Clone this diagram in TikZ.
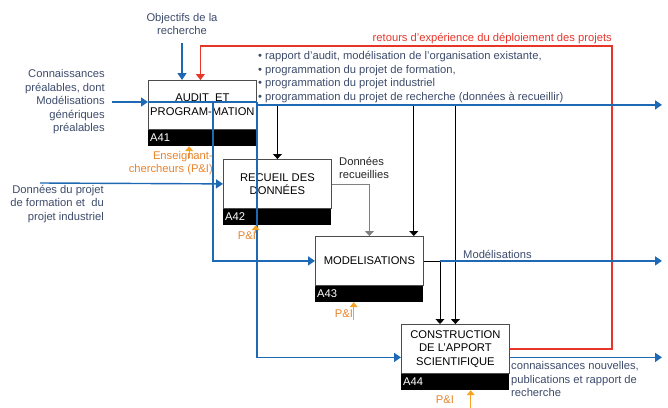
\documentclass[tikz,border=0pt]{standalone}
\usepackage{fontspec}
\setmainfont{Liberation Sans}
\usetikzlibrary{arrows.meta,positioning}
\definecolor{idefblue}{RGB}{30,105,180}
\definecolor{idefred}{RGB}{232,53,42}
\definecolor{idefgold}{RGB}{245,163,33}
\definecolor{idefamber}{RGB}{232,131,42}
\definecolor{idefslate}{RGB}{61,75,107}

\begin{document}
\begin{tikzpicture}[x=1pt, y=-1pt, font=\fontsize{11.2}{13.5}\selectfont]
      \tikzset{
  activity/.style={
    rectangle,
    draw=black!70,
    fill=white,
    line width=.8pt,
    minimum width=108pt,
    minimum height=49pt,
    inner sep=1pt,
    align=center,
    anchor=north west
  },
  activity id/.style={
    rectangle,
    fill=black,
    text=white,
    text width=104pt,
    minimum height=16pt,
    inner sep=2pt,
    align=left,
    anchor=north west
  },
  note/.style={inner sep=0pt, text=idefslate},
  staff label/.style={inner sep=0pt, text=idefamber},
  flow/.style={draw=idefblue, line width=1.4pt, >={Triangle[length=7pt,width=9pt]}},
  feed/.style={draw=black, line width=.8pt, >={Triangle[length=5pt,width=9pt]}},
  feed gray/.style={feed, draw=black!50},
  back/.style={draw=idefred, line width=1.3pt, >={Triangle[length=6pt,width=9pt]}},
  staff/.style={draw=idefgold, line width=1.1pt, >={Triangle[length=5pt,width=8pt]}}
}
\useasboundingbox (0,0) rectangle (668,407);

\foreach \n/\x/\y/\t in {41/148/80/{AUDIT\ \ ET\\PROGRAM-MATION},
                         42/223/159/{RECUEIL DES\\DONNÉES},
                         43/315/236/{MODELISATIONS},
                         44/401/324/{CONSTRUCTION\\DE L'APPORT\\SCIENTIFIQUE}} {
  \node [activity] (a\n) at (\x,\y) {\t};
  \node [activity id] (a\n id) at (a\n.south west) {A\n};
}

% texts
\node [note, align=center] (objectives) at (182,24) {Objectifs de la\\recherche};
\node [note, align=right, anchor=east] (knowledge) at (105,102)
  {Connaissances\\préalables, dont\\Modélisations\\génériques\\préalables};
\node [note, align=right, anchor=east] (project data) at (104,204)
  {Données du projet\\de formation et\ \ du\\projet industriel};
\node [note, align=left, anchor=west] (plans) at (258,77)
  {\textbullet\ rapport d'audit, modélisation de l'organisation existante,\\
   \textbullet\ programmation du projet de formation,\\
   \textbullet\ programmation du projet industriel\\
   \textbullet\ programmation du projet de recherche (données à recueillir)};
\node [note, text=black!85, align=left, anchor=west] (collected) at (339,168) {Données\\recueillies};
\node [note, anchor=base west] (models) at (463,258) {Modélisations};
\node [note, align=left, anchor=west] (results) at (511,379)
  {connaissances nouvelles,\\publications et rapport de\\recherche};

\coordinate (edge) at (662,0);
\coordinate (loop corner) at (612,46);
\coordinate (fork) at (213,102);
\coordinate (data in) at (40,183);
\coordinate (a41 back) at ([xshift=-2pt]a41.north);
\coordinate (a43 drop) at ([xshift=-10pt]a43.north east);
\coordinate (a44 drop) at ([xshift=39pt]a44.north west);
\coordinate (a44 in) at ([yshift=-8.5pt]a44.west);
\coordinate (a44 out) at ([yshift=-8.5pt]a44.east);

\node [note, text=idefred, anchor=south east] (feedback) at ([yshift=2pt]loop corner)
  {retours d'expérience du déploiement des projets};

% controls and outputs between activities
\draw [feed,->] (a41.east -| a42.north) -- (a42.north);
\draw [feed,->] (a43 drop |- a41.east) -- (a43 drop);
\draw [feed,->] (a44.north |- a41.east) -- (a44.north);
\draw [feed gray,->] (a42.east) -| (a43.north);
\draw [feed,->] (a43.east) -| (a44 drop);

\draw [back,->] (a44.east) -| (loop corner) -| (a41 back);

% inputs
\draw [flow,->] ([yshift=-8pt]objectives.south) -- (objectives.south |- a41.north);
\draw [flow,->] ([xshift=7pt]knowledge.east) -- (knowledge.east -| a41.west);
\draw [flow] (knowledge.east -| a41.west) -- (knowledge.east -| a41.east);
\draw [flow,->] (knowledge.east -| a41.east) |- (a44 in);
\draw [flow,->] (fork) |- (a43.west);
\draw [flow,->] (data in) -- (a42.west);

% outputs
\draw [flow,->] (a41.east) -- (a41.east -| edge);
\draw [flow,->] (a44 drop |- a43.east) -- (a43.east -| edge);
\draw [flow,->] (a44 out) -- (a44 out -| edge);

% mechanisms
\foreach \n/\dx/\len in {41/-13/12, 42/-21.5/8, 43/-15.5/18, 44/15.5/18}
  \draw [staff,->] ([xshift=\dx pt, yshift=-\len pt]a\n id.south) -- ([xshift=\dx pt]a\n id.south);

\node [staff label, align=right, anchor=east] (staff 41) at (213,163) {Enseignant-\\chercheurs (P\&I)};
\node [staff label] (staff 42) at (247,236) {P\&I};
\node [staff label] (staff 43) at (344,314) {P\&I};
\node [staff label] (staff 44) at (445,400) {P\&I};
      \end{tikzpicture}
\end{document}
